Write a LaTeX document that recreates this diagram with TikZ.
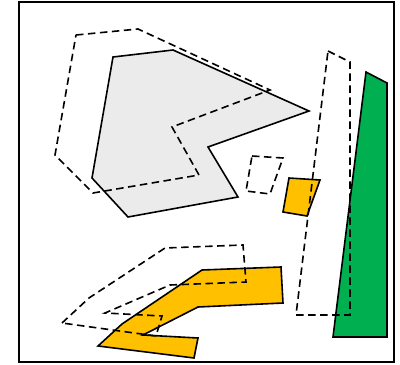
\documentclass[tikz,border=0pt]{standalone}
\begin{document}
\begin{tikzpicture}[x=1pt,y=-1pt,
  solidshape/.style={draw=black,line width=1.6pt,line join=miter},
  dashshape/.style={draw=black,line width=1.6pt,dash pattern=on 7.5pt off 4.5pt},
  grayfill/.style={fill={rgb,255:red,235;green,235;blue,235}},
  orangefill/.style={fill={rgb,255:red,255;green,192;blue,0}},
  greenfill/.style={fill={rgb,255:red,0;green,176;blue,80}}]
\useasboundingbox (0,0) rectangle (400,365);
\fill[white] (0,0) rectangle (400,365);
\draw[line width=1.6pt] (19,2) rectangle (394,362);
% solid shapes
\draw[solidshape,grayfill] (113,57) -- (173,50) -- (309,111) -- (208,147) -- (238,197) -- (128,217) -- (92,178) -- cycle;
\draw[solidshape,orangefill] (289,178) -- (320,180) -- (307,216) -- (283,212) -- cycle;
\draw[solidshape,greenfill] (366,72) -- (387,83) -- (387,337) -- (333,337) -- cycle;
\draw[solidshape,orangefill] (202,270) -- (281,267) -- (283,303) -- (198,307) -- (143,335) -- (198,338) -- (194,358) -- (98,346) -- (122,324) -- cycle;
% dashed shapes
\draw[dashshape] (76,35) -- (138,29) -- (270,90) -- (172,127) -- (199,175) -- (93,193) -- (55,155) -- cycle;
\draw[dashshape] (252,156) -- (283,158) -- (270,194) -- (246,191) -- cycle;
\draw[dashshape] (328,51) -- (350,62) -- (350,315) -- (296,315) -- cycle;
\draw[dashshape] (62,323) -- (89,298) -- (165,248) -- (243,245) -- (246,282) -- (170,285) -- (105,313) -- (162,316) -- (156,336) -- cycle;
\end{tikzpicture}
\end{document}
